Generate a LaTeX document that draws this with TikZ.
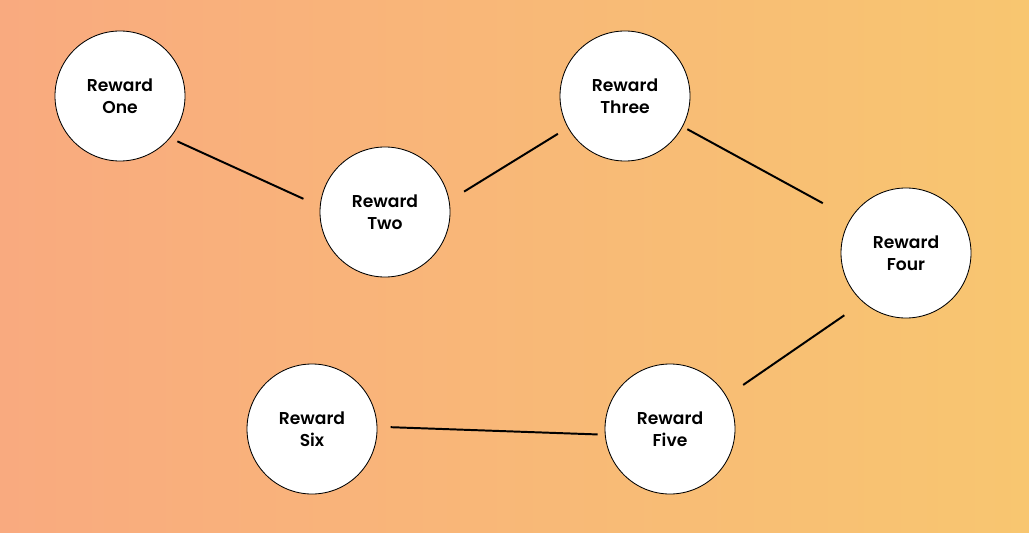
\documentclass[tikz,border=0pt]{standalone}
\usepackage{fontspec}
\setmainfont{Poppins}[BoldFont={Poppins SemiBold}]
\usepackage{tikz}
\usetikzlibrary{positioning}

\definecolor{bgleft}{HTML}{F9AA7F}
\definecolor{bgright}{HTML}{F8C670}

\begin{document}
\begin{tikzpicture}[auto, node distance=2cm, thick]
        % Estilos
        \tikzstyle{reward} = [draw, circle, fill=white, line width=0.6pt, minimum size=3.25cm, inner sep=0pt, align=center, font=\fontsize{12.2}{15.5}\selectfont\bfseries]
        \tikzstyle{link} = [draw, line width=1.4pt]

        % Fondo
        \shade [left color=bgleft, right color=bgright] (0,0) rectangle (25.725,13.3);
        \useasboundingbox (0,0) rectangle (25.725,13.3);

        % Nodes
        \node at (3,10.9) [reward] (rewardOne) {Reward\\One};
        \node [reward, on grid, below right=2.9cm and 6.625cm of rewardOne] (rewardTwo) {Reward\\Two};
        \node [reward, on grid, above right=2.9cm and 6cm of rewardTwo] (rewardThree) {Reward\\Three};
        \node [reward, on grid, below right=3.925cm and 7.025cm of rewardThree] (rewardFour) {Reward\\Four};
        \node [reward, on grid, below left=4.4cm and 5.9cm of rewardFour] (rewardFive) {Reward\\Five};
        \node [reward, on grid, left=8.95cm of rewardFive] (rewardSix) {Reward\\Six};

        % Lines
        \draw [link, shorten <=0.2cm, shorten >=0.45cm] (rewardOne.-40) -- (rewardTwo.175);
        \draw [link, shorten <=0.43cm, shorten >=0.29cm] (rewardTwo.10) -- (rewardThree.-151);
        \draw [link, shorten <=0.13cm, shorten >=0.79cm] (rewardThree.-28) -- (rewardFour.148);
        \draw [link, shorten <=0.57cm, shorten >=0.5cm] (rewardFour.-131) -- (rewardFive.30);
        \draw [link, shorten <=0.18cm, shorten >=0.33cm] (rewardFive.185) -- (rewardSix.2);

      \end{tikzpicture}
\end{document}
